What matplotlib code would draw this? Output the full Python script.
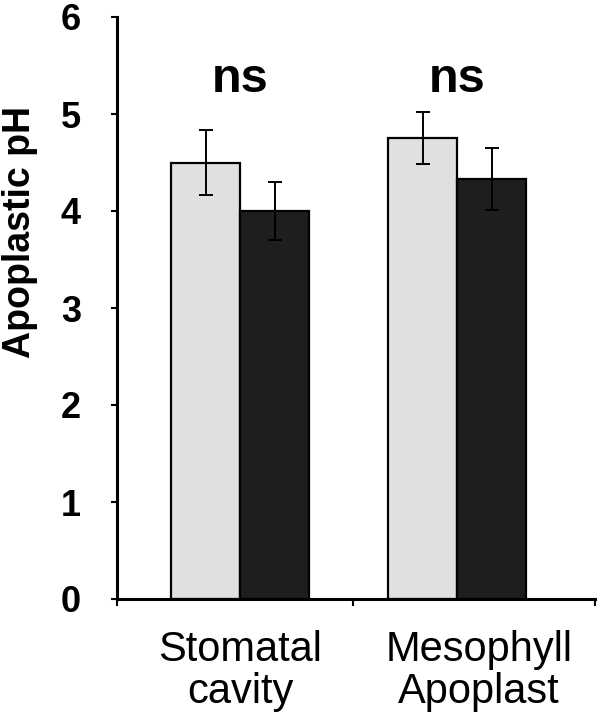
import matplotlib
matplotlib.use("Agg")
import matplotlib.pyplot as plt
import numpy as np

plt.rcParams['font.family'] = ['Liberation Sans', 'DejaVu Sans']

categories = ["Stomatal\ncavity", "Mesophyll\nApoplast"]
light_vals = [4.50, 4.75]
light_err = [0.33, 0.27]
dark_vals = [4.00, 4.33]
dark_err = [0.30, 0.32]
annotations = ["ns", "ns"]
yticks = [0, 1, 2, 3, 4, 5, 6]

fig = plt.figure(figsize=(6.0, 7.22), dpi=100)
ax = fig.add_axes([117/600, 1-599/722, (595-117)/600, (599-17)/722])

x = np.arange(len(categories))
w = 0.318
ekw = dict(elinewidth=1.4, capthick=1.4, ecolor='black')
ax.bar(x - w/2, light_vals, w, yerr=light_err, color='#e0e0e0', edgecolor='black',
       linewidth=1.6, capsize=5, error_kw=ekw, zorder=2)
ax.bar(x + w/2, dark_vals, w, yerr=dark_err, color='#1e1e1e', edgecolor='black',
       linewidth=1.6, capsize=5, error_kw=ekw, zorder=2)

x0, x1 = -0.567, 1.636
ax.set_xlim(x0, x1)
ax.set_ylim(0, 6)
ax.set_yticks(yticks)
ax.set_yticklabels([str(t) for t in yticks], fontsize=26, fontweight='bold')
ax.tick_params(axis='y', length=4, width=1.5, pad=22)
ax.set_xticks([x0, 0.521, x1])
ax.set_xticklabels([])
ax.tick_params(axis='x', length=5, width=1.5, direction='out')

for s in ['top', 'right']:
    ax.spines[s].set_visible(False)
for s in ['left', 'bottom']:
    ax.spines[s].set_linewidth(2.2)

for xi, a in zip(x, annotations):
    ax.text(xi, 5.23, a, ha='center', va='baseline', fontsize=35, fontweight='bold')

label_x = [0.0, 1.1]
for xi, c in zip(label_x, categories):
    ax.text(xi, -0.32, c, ha='center', va='top', fontsize=30, linespacing=1.05)

fig.text(20/600, 1-232/722, "Apoplastic pH", rotation=90, ha='center', va='center',
         fontsize=27, fontweight='bold')

fig.savefig("out.png", dpi=100)
